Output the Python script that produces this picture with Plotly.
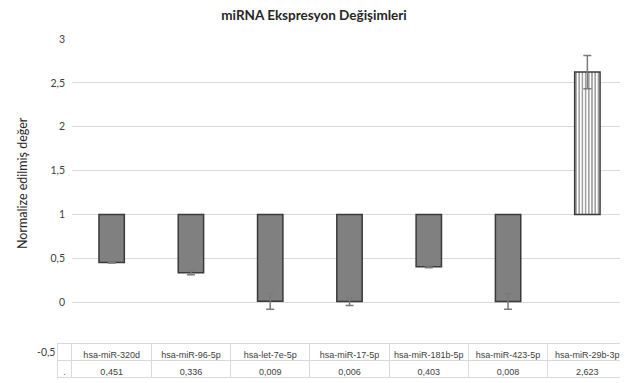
import plotly.graph_objects as go

categories = ["hsa-miR-320d", "hsa-miR-96-5p", "hsa-let-7e-5p", "hsa-miR-17-5p",
              "hsa-miR-181b-5p", "hsa-miR-423-5p", "hsa-miR-29b-3p"]
values = [0.451, 0.336, 0.009, 0.006, 0.403, 0.008, 2.623]
errors = [0.005, 0.025, 0.09, 0.045, 0.01, 0.09, 0.19]
value_labels = ["0,451", "0,336", "0,009", "0,006", "0,403", "0,008", "2,623"]
baseline = 1.0
y_ticks = [-0.5, 0, 0.5, 1, 1.5, 2, 2.5, 3]
y_tick_labels = ["", "0", "0,5", "1", "1,5", "2", "2,5", "3"]
y_min_label = "-0,5"

# page body adds an 8px offset; size the figure so it fills the 628x383 window
OFF = 8
W, H = 628 - OFF, 383 - OFF
# reference pixel positions (window coordinates)
plot_left, plot_right = 72, 627
plot_top, axis_bottom = 39, 346
table_left, table_top, table_bottom = 57, 343, 378

ml = table_left - OFF
mr = W - (plot_right - OFF)
mt = plot_top - OFF
mb = H - (table_bottom - OFF)
plot_w = W - ml - mr
plot_h = H - mt - mb
x_dom_start = (plot_left - table_left) / plot_w
y_dom_start = (table_bottom - axis_bottom) / plot_h

fills = ["#808080"] * 6 + ["#ffffff"]
patterns = [""] * 6 + ["|"]
tfont = dict(family="Liberation Sans", size=9, color="#404040")

fig = go.Figure()
fig.add_trace(go.Bar(
    x=categories,
    y=[v - baseline for v in values],
    base=baseline,
    width=0.32,
    marker=dict(
        color=fills,
        line=dict(color="#3a3a3a", width=1.5),
        pattern=dict(shape=patterns, fgcolor="#6a6a6a", bgcolor="#ffffff",
                     size=3.2, solidity=0.5, fillmode="overlay"),
    ),
    showlegend=False,
    hoverinfo="skip",
))
fig.add_trace(go.Scatter(
    x=categories,
    y=values,
    mode="markers",
    marker=dict(size=1, color="rgba(0,0,0,0)"),
    error_y=dict(type="data", array=errors, visible=True,
                 color="#7a7a7a", thickness=1.5, width=4),
    showlegend=False,
    hoverinfo="skip",
))

fig.add_trace(go.Table(
    domain=dict(x=[0, 1], y=[0, (table_bottom - table_top) / plot_h]),
    columnwidth=[15] + [79.3] * len(categories),
    header=dict(
        values=[""] + categories,
        height=17,
        line=dict(color="#d9d9d9", width=1),
        fill=dict(color="white"),
        font=tfont,
        align="center",
    ),
    cells=dict(
        values=[["."]] + [[v] for v in value_labels],
        height=17,
        line=dict(color="#d9d9d9", width=1),
        fill=dict(color="white"),
        font=tfont,
        align="center",
    ),
))

fig.update_layout(
    width=W, height=H,
    margin=dict(l=ml, r=mr, t=mt, b=mb, pad=0, autoexpand=False),
    paper_bgcolor="white",
    plot_bgcolor="white",
    title=dict(text="<b>miRNA Ekspresyon Değişimleri</b>",
               x=(314 - OFF) / W, xanchor="center", xref="container",
               y=1, yanchor="top", yref="container",
               pad=dict(t=3, b=0),
               font=dict(family="Lato", size=13.5, color="#262626")),
    xaxis=dict(domain=[x_dom_start, 1], range=[-0.5, 6.5],
               showticklabels=False, showgrid=False, zeroline=False,
               showline=False, ticks=""),
    yaxis=dict(domain=[y_dom_start, 1], range=[-0.5, 3],
               tickvals=y_ticks, ticktext=y_tick_labels,
               showgrid=True, gridcolor="#d9d9d9", gridwidth=1,
               zeroline=False, showline=False, ticks="", ticklen=0,
               ticklabelstandoff=6,
               tickfont=dict(family="Lato", size=10.5, color="#404040")),
    annotations=[
        dict(
            text="Normalize edilmiş değer", textangle=-90,
            xref="paper", yref="paper",
            x=(22 - plot_left) / plot_w + x_dom_start,
            y=(table_bottom - 183) / plot_h,
            xanchor="center", yanchor="middle", showarrow=False,
            font=dict(family="Lato", size=12.5, color="#262626"),
        ),
        dict(
            text=y_min_label, xref="paper", yref="y",
            x=(57 - plot_left) / plot_w + x_dom_start, y=y_ticks[0],
            xanchor="right", yanchor="middle", yshift=-6, showarrow=False,
            font=dict(family="Lato", size=10.5, color="#404040"),
        ),
    ],
)

fig.write_html("out.html")
